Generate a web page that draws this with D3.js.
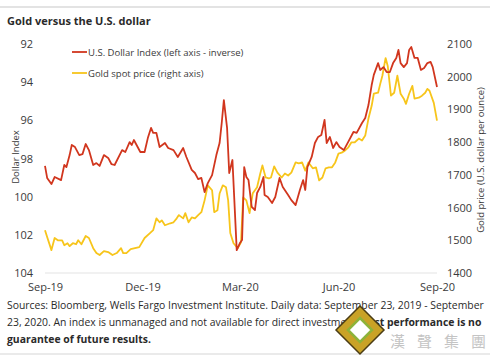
<!DOCTYPE html>
<html>
<head>
<meta charset="utf-8">
<script src="https://cdn.jsdelivr.net/npm/d3@7"></script>
<style>
  body { margin: 0; background: #fff; }
  svg { font-family: 'Open Sans', sans-serif; }
</style>
</head>
<body>
<svg id="chart" width="500" height="363"></svg>
<script>
// Data (days counted from September 23, 2019)
const startDate = new Date(2019, 8, 23);

const dollarDays = [0, 2, 6, 9, 15, 18, 20, 23, 25, 28, 32, 35, 38, 41, 45, 48, 51, 55, 59, 62, 65, 72, 75, 79, 81, 83, 89, 93, 96, 99,
  101, 104, 107, 112, 115, 120, 124, 129, 132, 137, 140, 143, 146, 149, 152, 156, 160, 163, 165, 167, 170, 172, 175, 179, 182, 184, 186, 188, 190, 193,
  196, 198, 201, 204, 205, 208, 212, 215, 219, 222, 227, 230, 234, 238, 241, 243, 245, 249, 252, 255, 258, 261, 263, 266, 269, 272, 275, 279, 283, 288,
  291, 296, 299, 302, 305, 307, 311, 313, 316, 319, 322, 325, 328, 330, 332, 335, 338, 340, 342, 345, 348, 351, 354, 357, 360, 362, 366];
const dollarValues = [98.39, 99.02, 99.34, 98.97, 99.13, 98.34, 98.45, 97.82, 97.29, 97.40, 97.82, 97.77, 97.24, 97.56, 98.34, 98.24, 98.39, 97.82, 97.97, 98.29, 98.34, 97.56, 97.66, 97.14, 97.29, 97.03, 97.66, 97.66, 96.93, 96.40,
  96.66, 96.66, 97.40, 97.19, 97.45, 97.56, 97.92, 97.45, 97.92, 98.60, 98.76, 99.08, 99.02, 99.76, 99.29, 98.87, 97.82, 97.19, 96.14, 94.94, 96.40, 98.76, 98.08, 102.80, 102.43, 102.27, 98.45, 98.97, 99.13, 100.54,
  100.70, 99.81, 99.49, 98.97, 99.91, 100.02, 100.33, 100.02, 99.02, 99.49, 99.91, 100.18, 100.44, 99.65, 99.13, 99.65, 98.45, 97.92, 97.19, 96.87, 96.77, 95.98, 97.19, 96.87, 97.45, 97.14, 97.40, 97.56, 97.14, 96.61,
  96.66, 96.14, 95.88, 95.20, 94.15, 93.62, 93.00, 93.36, 93.21, 93.47, 93.47, 93.00, 92.73, 92.31, 93.00, 93.21, 93.00, 92.31, 92.16, 92.73, 92.73, 93.36, 93.26, 93.00, 92.94, 93.21, 94.25];

const goldDays = [0, 2, 6, 9, 12, 16, 18, 21, 23, 26, 29, 31, 34, 38, 41, 45, 48, 51, 55, 59, 63, 67, 71, 73, 76, 80, 84, 88, 93, 98,
  101, 104, 107, 109, 112, 117, 120, 123, 125, 129, 131, 134, 137, 140, 143, 146, 149, 152, 156, 158, 161, 163, 166, 169, 171, 173, 176, 180, 183, 185,
  188, 191, 194, 198, 201, 203, 206, 209, 211, 214, 217, 221, 224, 227, 230, 234, 237, 240, 243, 246, 250, 253, 256, 259, 262, 265, 268, 271, 274, 277,
  280, 283, 286, 289, 293, 296, 299, 302, 305, 307, 311, 313, 315, 317, 318, 320, 321, 323, 326, 329, 332, 335, 337, 340, 343, 345, 349, 352, 355, 357,
  359, 363, 366];
const goldValues = [1531, 1510, 1470, 1507, 1500, 1500, 1485, 1491, 1482, 1491, 1488, 1500, 1488, 1513, 1507, 1476, 1461, 1455, 1467, 1464, 1455, 1461, 1476, 1461, 1461, 1473, 1476, 1479, 1507, 1522,
  1531, 1567, 1555, 1561, 1546, 1552, 1555, 1567, 1577, 1567, 1583, 1555, 1570, 1567, 1577, 1586, 1622, 1668, 1653, 1586, 1592, 1643, 1668, 1662, 1622, 1522, 1491, 1476, 1494, 1631,
  1622, 1583, 1644, 1662, 1704, 1729, 1692, 1689, 1692, 1726, 1707, 1692, 1704, 1698, 1707, 1738, 1735, 1738, 1713, 1738, 1720, 1723, 1683, 1692, 1720, 1723, 1723, 1738, 1765, 1768,
  1774, 1783, 1799, 1799, 1811, 1805, 1820, 1872, 1911, 1948, 1951, 1978, 2003, 2039, 2057, 2033, 2003, 1942, 1951, 2003, 1948, 1933, 1917, 1948, 1972, 1933, 1936, 1942, 1951, 1963,
  1957, 1920, 1866];

const dollarTicks = [92, 94, 96, 98, 100, 102, 104];
const goldTicks = [1400, 1500, 1600, 1700, 1800, 1900, 2000, 2100];
const dateTickDays = [0, 91, 182, 274, 366];

const title = 'Gold versus the U.S. dollar';
const legendLabels = ['U.S. Dollar Index (left axis - inverse)', 'Gold spot price (right axis)'];
const sourceLines = [
  'Sources: Bloomberg, Wells Fargo Investment Institute. Daily data: September 23, 2019 - September',
  '23, 2020. An index is unmanaged and not available for direct investment. '
];

// Colors
const red = '#d1361e';
const gold = '#f7c51b';
const textColor = '#3a3a3a';
const gridColor = '#ececec';

const dayToDate = d => d3.timeDay.offset(startDate, d);
const dollar = dollarDays.map((d, i) => ({date: dayToDate(d), value: dollarValues[i]}));
const goldSeries = goldDays.map((d, i) => ({date: dayToDate(d), value: goldValues[i]}));

const svg = d3.select('#chart');
const margin = {left: 45, right: 437, top: 44, bottom: 273};

// Scales
const x = d3.scaleTime()
  .domain([startDate, dayToDate(366)])
  .range([margin.left, margin.right]);
const yLeft = d3.scaleLinear()
  .domain([92, 104])
  .range([margin.top, margin.bottom]);
const yRight = d3.scaleLinear()
  .domain([2100, 1400])
  .range([margin.top, margin.bottom]);

// Frame lines
svg.append('line')
  .attr('x1', 0).attr('x2', 490)
  .attr('y1', 7).attr('y2', 7)
  .attr('stroke', '#e3e3e3').attr('stroke-width', 2);
svg.append('line')
  .attr('x1', 0).attr('x2', 490)
  .attr('y1', 354).attr('y2', 354)
  .attr('stroke', '#e3e3e3').attr('stroke-width', 1.5);

svg.append('text')
  .attr('x', 7).attr('y', 25)
  .attr('font-size', 11).attr('font-weight', 'bold')
  .attr('fill', '#2a2a2a')
  .text(title);

// Baseline
svg.append('line')
  .attr('x1', margin.left).attr('x2', margin.right)
  .attr('y1', margin.bottom).attr('y2', margin.bottom)
  .attr('stroke', gridColor).attr('stroke-width', 1.5);

// Axes
const leftAxis = svg.append('g')
  .attr('transform', 'translate(33,0)')
  .call(d3.axisLeft(yLeft).tickValues(dollarTicks).tickSize(0).tickPadding(0));
const rightAxis = svg.append('g')
  .attr('transform', 'translate(447,0)')
  .call(d3.axisRight(yRight).tickValues(goldTicks).tickFormat(d3.format('d')).tickSize(0).tickPadding(0));
const bottomAxis = svg.append('g')
  .attr('transform', `translate(0,${margin.bottom})`)
  .call(d3.axisBottom(x).tickValues(dateTickDays.map(dayToDate)).tickFormat(d3.timeFormat('%b-%y')).tickSize(0).tickPadding(10));

[leftAxis, rightAxis, bottomAxis].forEach(axis => {
  axis.select('.domain').remove();
  axis.selectAll('text')
    .attr('font-family', "'Open Sans', sans-serif")
    .attr('font-size', 11)
    .attr('fill', textColor);
});

svg.append('text')
  .attr('transform', 'translate(19,157) rotate(-90)')
  .attr('text-anchor', 'middle')
  .attr('font-size', 9.5).attr('fill', textColor)
  .text('Dollar Index');
svg.append('text')
  .attr('transform', 'translate(484,160) rotate(-90)')
  .attr('text-anchor', 'middle')
  .attr('font-size', 9.5).attr('fill', textColor)
  .text('Gold price (U.S. dollar per ounce)');

// Lines
const dollarLine = d3.line()
  .x(d => x(d.date))
  .y(d => yLeft(d.value));
const goldLine = d3.line()
  .x(d => x(d.date))
  .y(d => yRight(d.value));

svg.append('path')
  .datum(goldSeries)
  .attr('fill', 'none')
  .attr('stroke', gold)
  .attr('stroke-width', 1.8)
  .attr('stroke-linejoin', 'round')
  .attr('d', goldLine);
svg.append('path')
  .datum(dollar)
  .attr('fill', 'none')
  .attr('stroke', red)
  .attr('stroke-width', 1.8)
  .attr('stroke-linejoin', 'round')
  .attr('d', dollarLine);

// Legend
const legend = svg.append('g');
[red, gold].forEach((color, i) => {
  const ly = 52 + i * 21;
  legend.append('line')
    .attr('x1', 72).attr('x2', 87)
    .attr('y1', ly).attr('y2', ly)
    .attr('stroke', color).attr('stroke-width', 1.8);
  legend.append('text')
    .attr('x', 88).attr('y', ly + 3.5)
    .attr('font-size', 9.5).attr('fill', textColor)
    .text(legendLabels[i]);
});

// Source note
const note = svg.append('g')
  .attr('font-size', 10.4)
  .attr('fill', '#2a2a2a');
note.append('text')
  .attr('x', 7).attr('y', 309)
  .text(sourceLines[0]);
const line2 = note.append('text')
  .attr('x', 7).attr('y', 326);
line2.append('tspan').text(sourceLines[1]);
line2.append('tspan').attr('font-weight', 'bold').text('Past performance is no');
note.append('text')
  .attr('x', 7).attr('y', 343)
  .attr('font-weight', 'bold')
  .text('guarantee of future results.');

// Watermark
const mark = svg.append('g');
mark.append('path')
  .attr('d', 'M360,306 L384,330 L360,354 L336,330 Z')
  .attr('fill', '#c9a227').attr('stroke', '#4a3c14').attr('stroke-width', 1.5);
mark.append('path')
  .attr('d', 'M360,318 L372,330 L360,342 L348,330 Z')
  .attr('fill', '#fff').attr('stroke', '#8db33a').attr('stroke-width', 2.5);
mark.append('text')
  .attr('x', 390).attr('y', 347)
  .attr('font-family', "'Noto Sans CJK TC', sans-serif")
  .attr('font-size', 15).attr('fill', '#c4c4c4')
  .attr('letter-spacing', 12)
  .text('漢聲集團');
</script>
</body>
</html>
